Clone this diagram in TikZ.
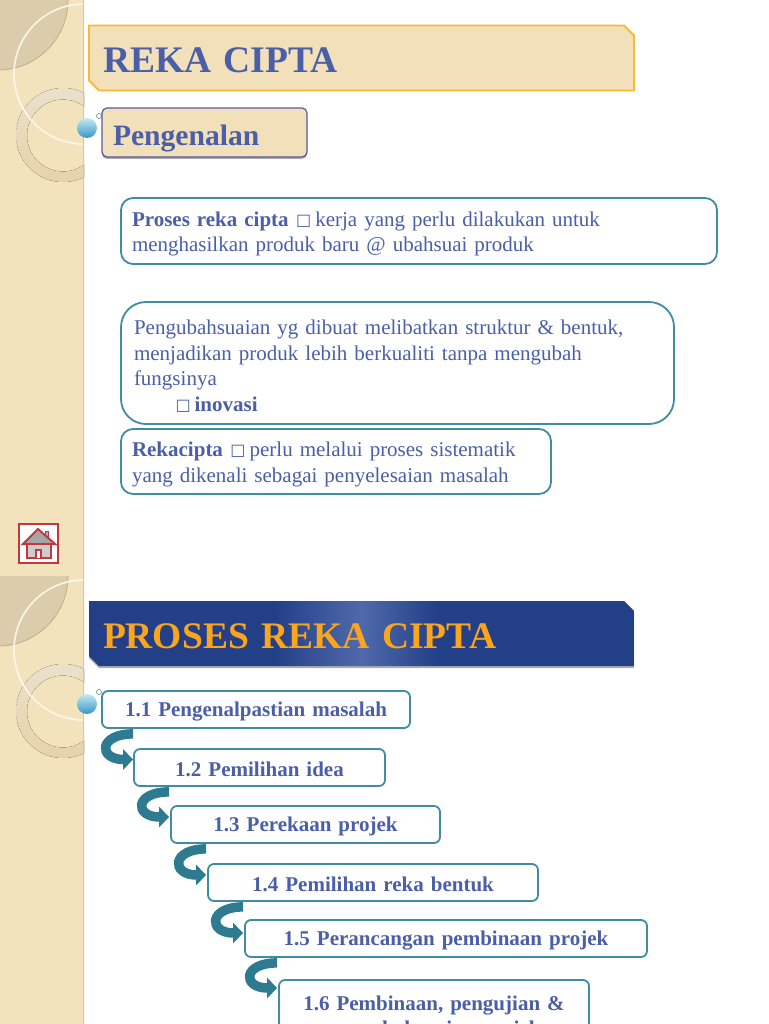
\documentclass[tikz,border=0pt]{standalone}
\usepackage{fontspec}
\setmainfont{Liberation Serif}
\newfontfamily\glyphfont{DejaVu Sans}
\usepackage{tikz}
\usetikzlibrary{arrows.meta,shapes.misc,shadows}
\definecolor{sand}{HTML}{F3E3BD}
\definecolor{sandfill}{HTML}{F1E0B9}
\definecolor{sandedge}{HTML}{D6C6A2}
\definecolor{leaf}{HTML}{DBCDAB}
\definecolor{leafedge}{HTML}{C5B58F}
\definecolor{ringtop}{HTML}{EAE1CC}
\definecolor{ringbot}{HTML}{E6D3A8}
\definecolor{gold}{HTML}{F8BB2F}
\definecolor{inkblue}{HTML}{4A5FA8}
\definecolor{teal}{HTML}{3F8DA3}
\definecolor{curlteal}{HTML}{2E7A91}
\definecolor{navy}{HTML}{233F87}
\definecolor{navyglow}{HTML}{5069AC}
\definecolor{amber}{HTML}{FBA51C}
\definecolor{homered}{HTML}{C4373D}
\definecolor{balltop}{HTML}{C2EAF4}
\definecolor{ballmid}{HTML}{4FBAD9}
\definecolor{ballbot}{HTML}{3A96C4}
\pgfdeclarehorizontalshading{bannerglow}{100bp}{color(0bp)=(navy); color(42bp)=(navy); color(50bp)=(navyglow); color(57bp)=(navy); color(100bp)=(navy)}
\newcommand{\boxglyph}{\hspace*{0.5pt}\raisebox{1pt}{\fontsize{16}{16}\glyphfont\char"25A1}\hspace*{-3pt}}

\begin{document}
\begin{tikzpicture}[x=1pt, y=-1pt, >=Stealth,
    panel/.pic={
      \begin{scope}
        \clip (0,0) rectangle (84,577);
        \fill[sand] (0,0) rectangle (84,577);
        \draw[leafedge, fill=leaf, line width=1pt] (-2,0) circle (70);
        \fill[even odd rule, top color=ringtop, bottom color=ringbot]
          (63,135) circle (47) (63,135.5) circle (36);
        \draw[white!70!sand, line width=1.6pt] (84,74) circle (70);
        \draw[sandedge, line width=1.5pt] (84,0) -- (84,577);
      \end{scope}
    },
    dot/.style={circle, minimum size=20pt, inner sep=0pt, top color=balltop, middle color=ballmid, bottom color=ballbot},
    handle/.style={circle, draw=teal!50!gray, fill=white, line width=0.6pt, minimum size=5pt, inner sep=0pt},
    headline/.style={chamfered rectangle, chamfered rectangle corners={north east,south west},
      chamfered rectangle xsep=5pt, chamfered rectangle ysep=5pt, minimum height=65pt,
      text width=517pt, inner xsep=9pt, inner ysep=0pt, align=left,
      execute at begin node={\rule{0pt}{30pt}},
      font=\fontsize{37.5}{40}\selectfont\bfseries},
    txt/.style={rectangle, rounded corners=12pt, draw=teal, line width=1.8pt, fill=white,
      inner xsep=11pt, inner ysep=0pt, align=left, text=inkblue,
      execute at begin node={\rule{0pt}{21pt}},
      font=\fontsize{21}{25.5}\selectfont},
    stepbox/.style={rectangle, rounded corners=6pt, draw=teal, line width=1.8pt, fill=white,
      minimum height=37pt, inner xsep=0pt, inner ysep=0pt, align=center, text=inkblue,
      execute at begin node={\rule{0pt}{19pt}},
      font=\fontsize{21}{25.5}\selectfont\bfseries},
    curl/.style={-{Triangle[length=10pt,width=20pt]}, curlteal, line width=9.5pt}]
  \useasboundingbox (0,0) rectangle (768,1024);
  % side panels
  \pic at (0,0) {panel};
  \pic at (0,576) {panel};
  % home button
  \node[rectangle, draw=homered, fill=white, line width=1.8pt, minimum width=39pt, minimum height=39pt] (home) at (38.5,543.5) {};
  \draw[homered, fill=gray!60, line width=1pt] (45,531) -- (48,531) -- (48,538) -- (45,538) -- cycle;
  \draw[homered, fill=gray!70, line width=2pt] (38,529) -- (55,544) -- (23,544) -- cycle;
  \draw[homered, fill=gray!40, line width=2pt] (27,544) rectangle (51,558);
  \draw[homered, fill=white, line width=1.5pt] (36,558) -- (36,550) -- (41,550) -- (41,558);
  % first slide
  \node[headline, draw=gold, fill=sandfill, line width=1.8pt, text=inkblue] (title) at (361.5,58) {REKA CIPTA};
  \node[dot] (ballA) at (87,128) {};
  \node[handle] (handleA) at (99,116) {};
  \node[rectangle, rounded corners=5pt, draw=gray!70!blue, fill=sandfill, line width=1.2pt,
        minimum height=49pt, text width=183pt, inner xsep=11pt, inner ysep=0pt, align=left,
        text=inkblue, font=\fontsize{29.6}{32}\selectfont\bfseries,
        execute at begin node={\rule{0pt}{32pt}},
        drop shadow={shadow xshift=0pt, shadow yshift=-2pt, fill=gray!80, opacity=0.8}] (intro) at (204.5,132.5) {Pengenalan};
  \node[txt, text width=574pt, minimum height=66pt] (boxA) at (419,231) {\textbf{Proses reka cipta} \boxglyph{} kerja yang perlu dilakukan untuk\\menghasilkan produk baru @ ubahsuai produk};
  \node[txt, rounded corners=25pt, text width=531pt, minimum height=122pt, inner xsep=11pt] (boxB) at (397.5,363) {\hspace*{2pt}Pengubahsuaian yg dibuat melibatkan struktur \& bentuk,\\\hspace*{2pt}menjadikan produk lebih berkualiti tanpa mengubah\\\hspace*{2pt}fungsinya\\\hspace*{43pt}\boxglyph{} \textbf{inovasi}};
  \node[txt, text width=408pt, minimum height=65pt] (boxC) at (336,461.5) {\textbf{Rekacipta} \boxglyph{} perlu melalui proses sistematik\\yang dikenali sebagai penyelesaian masalah};
  % second slide
  \node[headline, shading=bannerglow, text=amber,
        drop shadow={shadow xshift=0pt, shadow yshift=-2pt, fill=gray!80, opacity=0.8}] (banner) at (361.5,633.5) {PROSES REKA CIPTA};
  \node[dot] (ballB) at (87,704) {};
  \node[handle] (handleB) at (99,692) {};
  \node[stepbox, text width=308pt] (stepA) at (256,709.5) {1.1 Pengenalpastian masalah};
  \node[stepbox, text width=251pt] (stepB) at (259.5,767.5) {1.2 Pemilihan idea};
  \node[stepbox, text width=269pt] (stepC) at (305.5,824.5) {1.3 Perekaan projek};
  \node[stepbox, text width=330pt] (stepD) at (373,882.5) {1.4 Pemilihan reka bentuk};
  \node[stepbox, text width=402pt] (stepE) at (446,938.5) {1.5 Perancangan pembinaan projek};
  \node[stepbox, text width=310pt, minimum height=72pt] (stepF) at (434,1016) {1.6 Pembinaan, pengujian \&\\pengubahsuaian projek};

  \draw[curl] ([xshift=0pt,yshift=-5pt]stepB.west |- stepA.south) to[out=180, in=180, distance=35pt] ([yshift=8pt]stepB.west);
  \draw[curl] ([xshift=-1pt,yshift=-5pt]stepC.west |- stepB.south) to[out=180, in=180, distance=35pt] ([xshift=-1pt,yshift=7.5pt]stepC.west);
  \draw[curl] ([xshift=-1pt,yshift=-5pt]stepD.west |- stepC.south) to[out=180, in=180, distance=35pt] ([xshift=-1pt,yshift=7.5pt]stepD.west);
  \draw[curl] ([xshift=-1pt,yshift=-5pt]stepE.west |- stepD.south) to[out=180, in=180, distance=35pt] ([xshift=-1pt,yshift=5.5pt]stepE.west);
  \draw[curl] ([xshift=-1pt,yshift=-5pt]stepF.west |- stepE.south) to[out=180, in=180, distance=35pt] ([xshift=-1pt,yshift=28pt]stepF.west);
\end{tikzpicture}
\end{document}
